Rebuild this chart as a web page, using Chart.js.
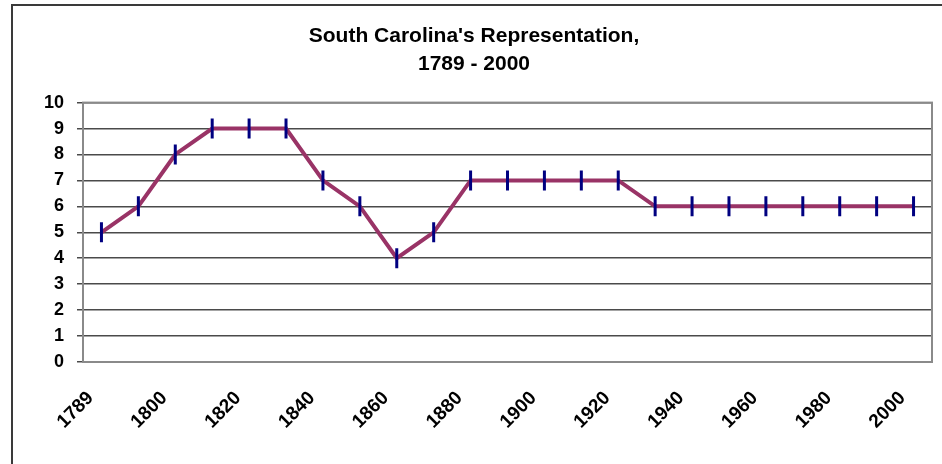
<!DOCTYPE html>
<html>
<head>
<meta charset="utf-8">
<script src="https://cdn.jsdelivr.net/npm/chart.js@4"></script>
<style>
  body { margin: 0; background: #fff; }
  #wrap { position: relative; width: 942px; height: 464px; overflow: hidden; }
  #frame {
    position: absolute; left: 11px; top: 4px; width: 1000px; height: 1000px;
    border-left: 2px solid #3a3a3a; border-top: 2px solid #3a3a3a;
  }
  canvas { position: absolute; left: 3px; top: 0; }
</style>
</head>
<body>
<div id="wrap">
  <div id="frame"></div>
  <canvas id="sc-chart" width="942" height="464"></canvas>
</div>
<script>
Chart.defaults.font.family = '"Liberation Sans", Arial, sans-serif';
Chart.defaults.font.weight = 'bold';
Chart.defaults.color = '#000';

// apportionment years (every census), and seats in the House
const years = [
  '1789', '1790', '1800', '1810', '1820', '1830', '1840', '1850',
  '1860', '1870', '1880', '1890', '1900', '1910', '1920', '1930',
  '1940', '1950', '1960', '1970', '1980', '1990', '2000',
];
const seats = [5, 6, 8, 9, 9, 9, 7, 6, 4, 5, 7, 7, 7, 7, 7, 6, 6, 6, 6, 6, 6, 6, 6];
// only these years get a label on the x axis
const xTickLabels = ['1789', '1800', '1820', '1840', '1860', '1880', '1900', '1920', '1940', '1960', '1980', '2000'];
const yTicks = [0, 1, 2, 3, 4, 5, 6, 7, 8, 9, 10];

// grey frame round the plot area (right + top edges)
const plotFrame = {
  id: 'plotFrame',
  beforeDatasetsDraw(chart) {
    const { ctx, chartArea: a } = chart;
    ctx.save();
    ctx.strokeStyle = '#8a8a8a';
    ctx.lineWidth = 2;
    ctx.strokeRect(a.left, a.top, a.right - a.left, a.bottom - a.top);
    ctx.restore();
  },
};

const ctx = document.getElementById('sc-chart');
const chart = new Chart(ctx, {
  type: 'line',
  data: {
    labels: years,
    datasets: [{
      label: 'Seats',
      data: seats,
      borderColor: '#993366',
      borderWidth: 4,
      tension: 0,
      pointStyle: 'line',
      pointRotation: 90,
      pointRadius: 10,
      pointHoverRadius: 10,
      pointBorderWidth: 3,
      pointBorderColor: '#000080',
      pointBackgroundColor: '#000080',
    }],
  },
  options: {
    responsive: false,
    animation: false,
    layout: { padding: 0 },
    plugins: {
      legend: { display: false },
      tooltip: { enabled: false },
      title: {
        display: true,
        text: ["South Carolina's Representation,", '1789 - 2000'],
        font: { size: 21, weight: 'bold', lineHeight: 1.3 },
        color: '#000',
        padding: { top: 23, bottom: 25 },
      },
    },
    scales: {
      x: {
        offset: true,
        grid: { display: false, drawTicks: false },
        border: { display: true, color: '#222', width: 2 },
        ticks: {
          autoSkip: false,
          minRotation: 45,
          maxRotation: 45,
          padding: 25,
          labelOffset: -11,
          font: { size: 19, weight: 'bold' },
          callback: function(value, index) {
            const y = years[index];
            return xTickLabels.includes(y) ? y : null;
          },
        },
        afterFit: function(scale) {
          scale.height = 102;
          scale.paddingLeft = 0;
          scale.paddingRight = 0;
        },
      },
      y: {
        min: 0,
        max: 10,
        afterBuildTicks: function(scale) {
          scale.ticks = yTicks.map(v => ({ value: v }));
        },
        grid: { color: '#4a4a4a', lineWidth: 1.5, tickLength: 6 },
        border: { display: true, color: '#222', width: 2 },
        ticks: {
          padding: 13,
          font: { size: 18, weight: 'bold' },
        },
        afterFit: function(scale) { scale.width = 80; },
      },
      // empty spacer on the right so the plot stops short of the edge
      spacer: {
        type: 'linear',
        position: 'right',
        display: true,
        grid: { display: false },
        border: { display: false },
        ticks: { display: false },
        afterFit: function(scale) { scale.width = 13; },
      },
    },
  },
  plugins: [plotFrame],
});
</script>
</body>
</html>
